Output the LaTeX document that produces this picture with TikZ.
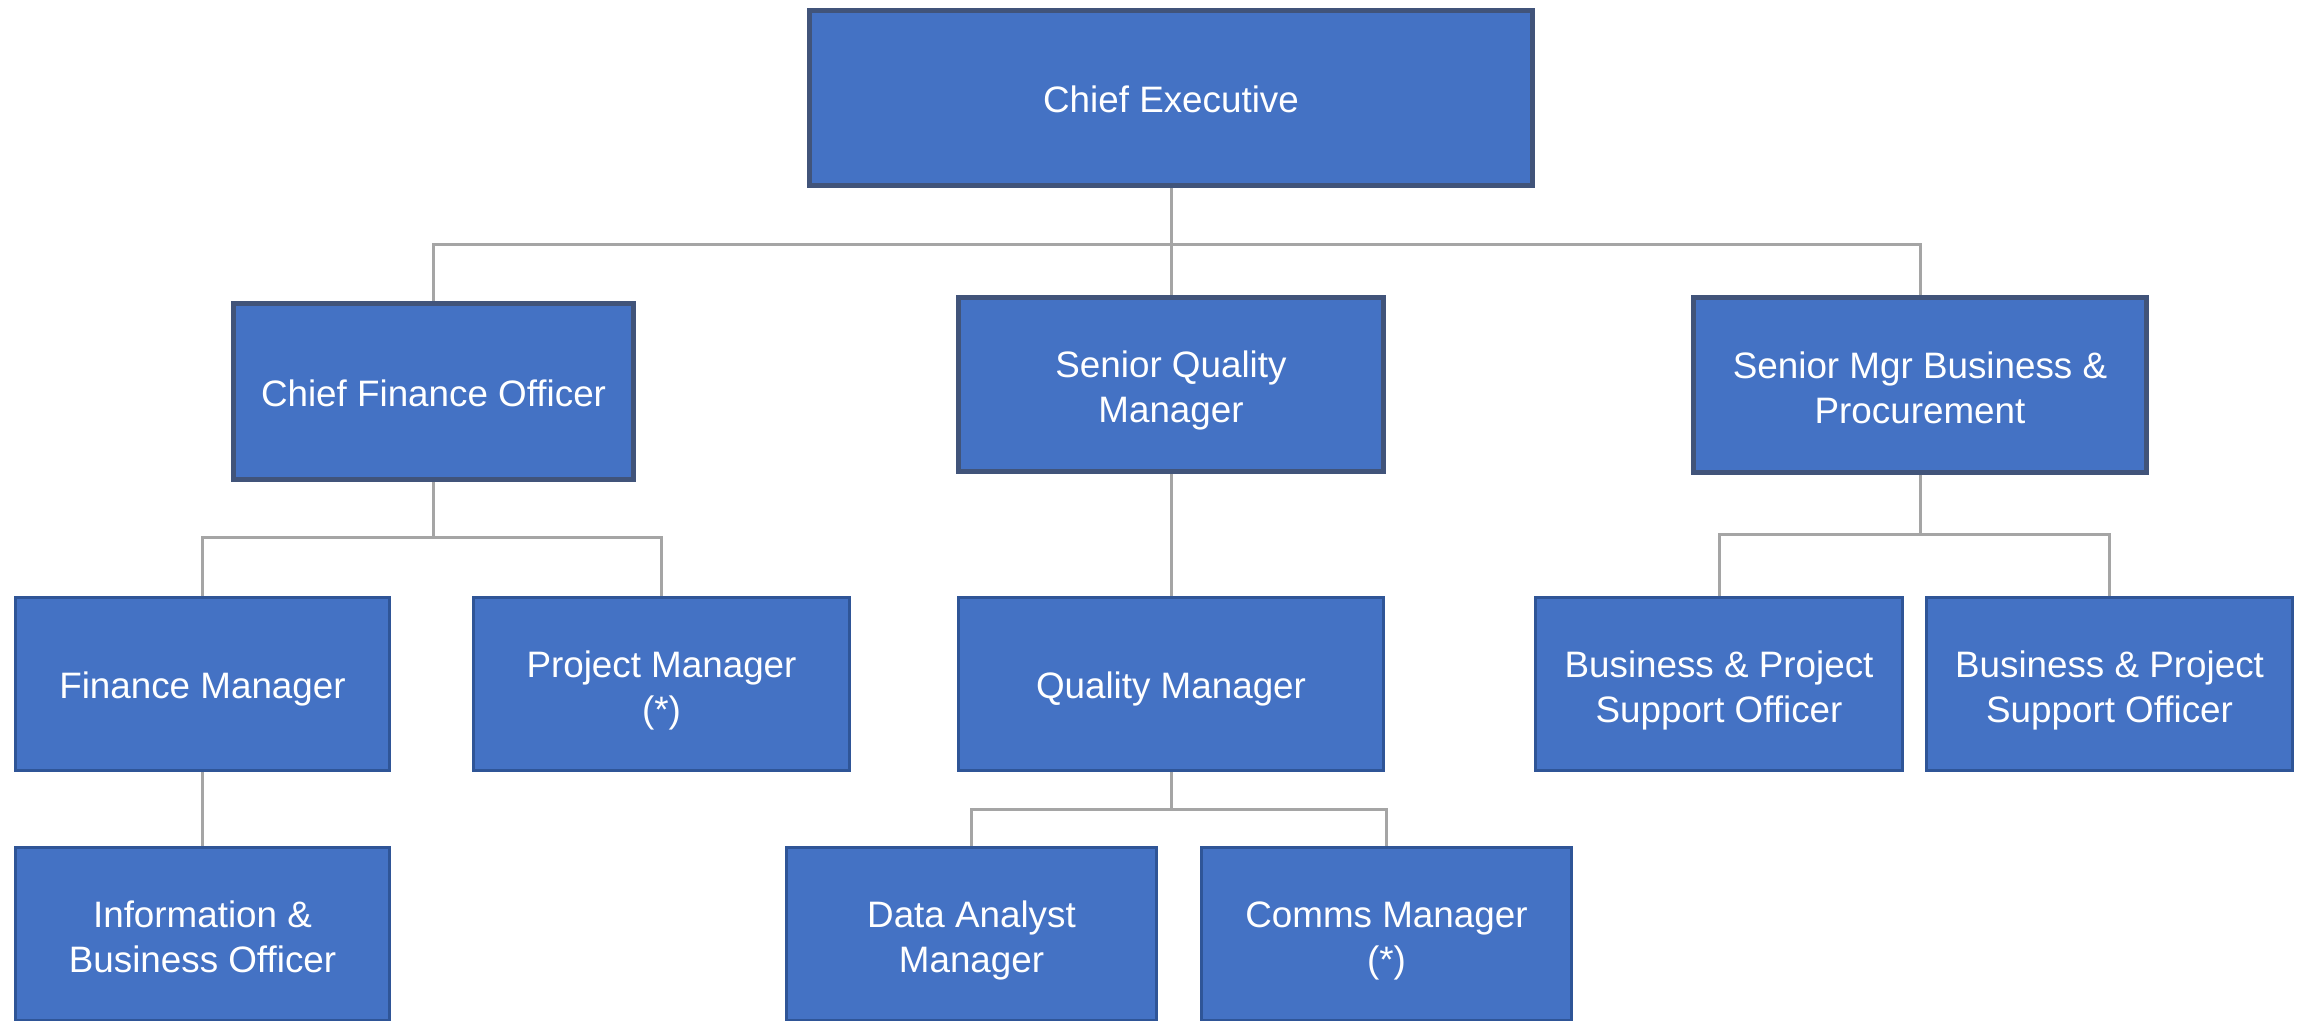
\documentclass[tikz,border=0pt]{standalone}
\usepackage{fontspec}
\setmainfont{Liberation Sans}
\usetikzlibrary{calc}
\definecolor{boxfill}{HTML}{4472C4}
\definecolor{darkedge}{HTML}{41547A}
\definecolor{thinedge}{HTML}{2F5597}
\definecolor{linkgray}{HTML}{A5A5A5}
\newcommand\firststrut{\rule[-3.8pt]{0pt}{22.4pt}}
\newcommand\laststrut{\rule[-3.8pt]{0pt}{0pt}}
\newcommand\mstrut{\rule{0pt}{19.4pt}}
\tikzset{
  orgbox/.style={rectangle, fill=boxfill, text=white, align=center, inner sep=0pt,
    font=\fontsize{18.4pt}{22.5pt}\selectfont,
    execute at begin node=\firststrut, execute at end node=\laststrut},
  topbox/.style={orgbox, draw=darkedge, line width=2.4pt},
  lowbox/.style={orgbox, draw=thinedge, line width=1.3pt},
  link/.style={draw=linkgray, line width=1.5pt}
}
% #1 style, #2 name, #3 x1, #4 y1, #5 x2, #6 y2, #7 text (pixel coords)
\newcommand\orgnode[7]{%
  \node[#1, minimum width={(#5-#3)*0.5pt-2.4pt}, minimum height={(#6-#4)*0.5pt-2.4pt}]
    (#2) at ({(#3+#5)/2},{(#4+#6)/2}) {#7};}
\begin{document}
\begin{tikzpicture}[x=0.5pt,y=-0.5pt]
\useasboundingbox (0,0) rectangle (2303,1021);
\clip (0,0) rectangle (2303,1021);
\orgnode{topbox}{ce}{807}{8}{1535}{188}{Chief Executive}
\orgnode{topbox}{cfo}{231}{301}{636}{482}{Chief Finance Officer}
\orgnode{topbox}{sqm}{956}{295}{1386}{474}{\mstrut Senior Quality\\Manager}
\orgnode{topbox}{smb}{1691}{295}{2149}{475}{\mstrut Senior Mgr Business \&\\Procurement}
\orgnode{lowbox}{fm}{13}{595}{392}{773}{Finance Manager}
\orgnode{lowbox}{pm}{471}{595}{852}{773}{\mstrut Project Manager\\(*)}
\orgnode{lowbox}{qm}{956}{595}{1386}{773}{Quality Manager}
\orgnode{lowbox}{soa}{1533}{595}{1905}{773}{\mstrut Business \& Project\\Support Officer}
\orgnode{lowbox}{sob}{1924}{595}{2295}{773}{\mstrut Business \& Project\\Support Officer}
\orgnode{lowbox}{ibo}{13}{845}{392}{1023}{\mstrut Information \&\\Business Officer}
\orgnode{lowbox}{dam}{784}{845}{1159}{1023}{\mstrut Data Analyst\\Manager}
\orgnode{lowbox}{cm}{1199}{845}{1574}{1023}{\mstrut Comms Manager\\(*)}
% buses
\coordinate (b0) at (1171,245);
\coordinate (b1) at (433.5,537.5);
\coordinate (b2) at (1920,534.5);
\coordinate (b3) at (1171,809);
\draw[link] (ce.south) -- (b0);
\draw[link] (cfo.north) |- (b0);
\draw[link] (smb.north) |- (b0);
\draw[link] (b0) -- (sqm.north);
\draw[link] (cfo.south) -- (b1);
\draw[link] (fm.north) |- (b1);
\draw[link] (pm.north) |- (b1);
\draw[link] (sqm.south) -- (qm.north);
\draw[link] (smb.south) -- (b2);
\draw[link] (soa.north) |- (b2);
\draw[link] (sob.north) |- (b2);
\draw[link] (qm.south) -- (b3);
\draw[link] (dam.north) |- (b3);
\draw[link] (cm.north) |- (b3);
\draw[link] (fm.south) -- (ibo.north);
\end{tikzpicture}
\end{document}
